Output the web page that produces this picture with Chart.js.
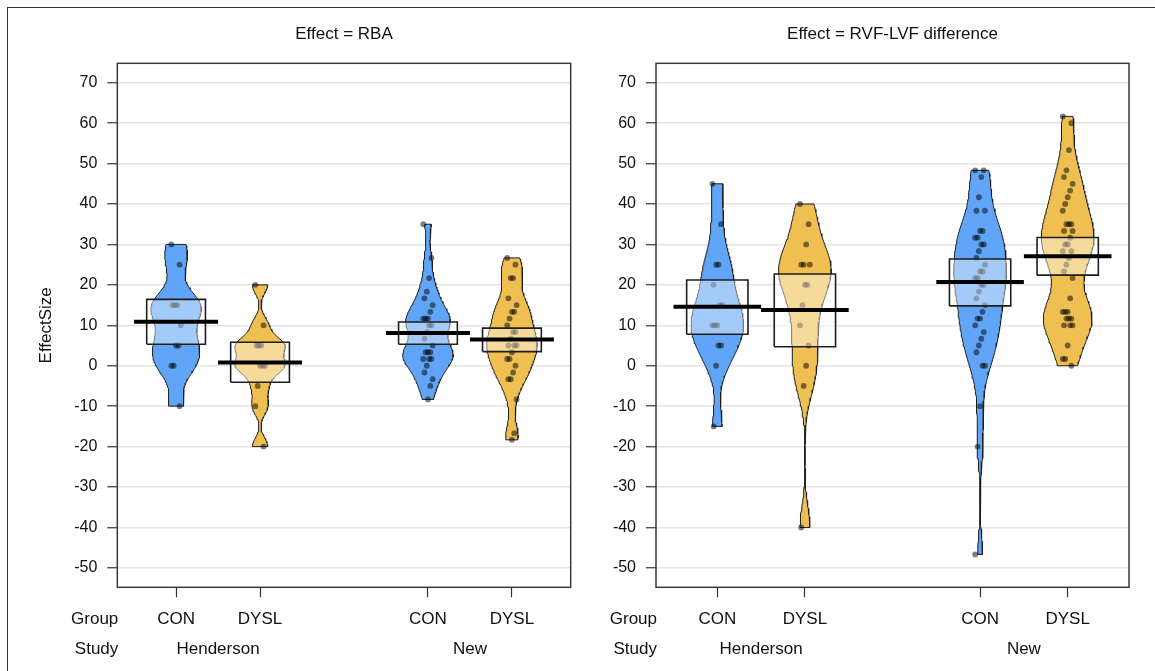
<!DOCTYPE html>
<html>
<head>
<meta charset="utf-8">
<script src="https://cdn.jsdelivr.net/npm/chart.js@4"></script>
<style>
  body { margin: 0; background: #fff; width: 1155px; height: 671px; overflow: hidden; position: relative; }
  #frame { position: absolute; left: 7px; top: 7px; width: 1300px; height: 800px; border: 1.5px solid #333; }
  canvas { position: absolute; top: 0; }
  #left { left: 0; }
  #right { left: 590px; }
</style>
</head>
<body>
<div id="frame"></div>
<canvas id="left" width="600" height="671"></canvas>
<canvas id="right" width="565" height="671"></canvas>
<script>
const effects = ['RBA', 'RVF-LVF difference'];
const groups = ['CON', 'DYSL', 'CON', 'DYSL'];
const studies = ['Henderson', 'New'];
const positions = [1, 2, 4, 5];
const rowNames = ['Group', 'Study'];
const yTicks = [-50, -40, -30, -20, -10, 0, 10, 20, 30, 40, 50, 60, 70];

// Effect = RBA, raw effect sizes per group
const rbaHendersonCon = [30, 25, 15, 15, 15, 10, 5, 5, 0, 0, -10];
const rbaHendersonDysl = [20, 10, 5, 5, 5, 0, 0, 0, -5, -10, -20];
const rbaNewCon = [35, 26.67, 21.67, 18.33, 16.67, 15, 13.33, 11.67, 11.67, 11.67, 10, 10, 8.33, 6.67, 5,
  3.33, 3.33, 3.33, 1.67, 1.67, 1.67, 0, -1.67, -3.33, -5, -8.33];
const rbaNewDysl = [26.67, 25, 21.67, 21.67, 16.67, 15, 13.33, 13.33, 11.67, 10, 8.33, 8.33, 6.67, 5, 5, 5,
  3.33, 1.67, 1.67, 0, -1.67, -3.33, -3.33, -8.33, -16.67, -18.33];
const rbaMeans = [10.9, 0.8, 8.1, 6.5];
const rbaLower = [5.3, -4.1, 5.3, 3.5];
const rbaUpper = [16.4, 5.8, 10.8, 9.3];

// Effect = RVF-LVF difference
const diffHendersonCon = [45, 35, 25, 25, 20, 15, 15, 10, 10, 10, 5, 5, 0, -15];
const diffHendersonDysl = [40, 35, 30, 25, 25, 25, 20, 20, 15, 10, 5, 0, -5, -40];
const diffNewCon = [48.33, 48.33, 46.67, 41.67, 38.33, 38.33, 33.33, 33.33, 31.67, 31.67, 30, 30, 28.33, 26.67,
  25, 23.33, 23.33, 21.67, 21.67, 20, 20, 18.33, 16.67, 15, 13.33, 11.67, 11.67, 10, 8.33, 6.67, 5, 3.33, 0, 0,
  -10, -20, -46.67];
const diffNewDysl = [61.67, 60, 53.33, 48.33, 46.67, 45, 43.33, 41.67, 40, 38.33, 35, 35, 35, 33.33, 33.33, 31.67,
  30, 30, 28.33, 28.33, 26.67, 25, 23.33, 21.67, 16.67, 13.33, 13.33, 13.33, 11.67, 11.67, 11.67, 10, 10, 10,
  5, 1.67, 1.67, 0];
const diffMeans = [14.6, 13.8, 20.7, 27.1];
const diffLower = [7.8, 4.7, 14.8, 22.4];
const diffUpper = [21.2, 22.7, 26.4, 31.7];

const FONT = "'Liberation Sans', Arial, Helvetica, sans-serif";
const beanColors = ['#60a5f7', '#efbf52'];
const BW_ADJUST = 0.7;

Chart.defaults.font.family = FONT;
Chart.defaults.font.size = 16;
Chart.defaults.color = '#111';

// gaussian density, trimmed to data range (like the bean in a pirate plot)
function density(vals, steps) {
  const s = vals.slice().sort((a, b) => a - b);
  const n = s.length;
  const mean = s.reduce((a, b) => a + b, 0) / n;
  const sd = Math.sqrt(s.reduce((a, v) => a + (v - mean) ** 2, 0) / (n - 1));
  const q = p => {
    const h = (n - 1) * p, lo = Math.floor(h);
    const hi = Math.min(lo + 1, n - 1);
    return s[lo] + (h - lo) * (s[hi] - s[lo]);
  };
  let spread = Math.min(sd, (q(0.75) - q(0.25)) / 1.34);
  if (!(spread > 0)) spread = sd || 1;
  const bw = BW_ADJUST * 0.9 * spread * Math.pow(n, -0.2);
  const out = [];
  for (let i = 0; i <= steps; i++) {
    const y = s[0] + (s[n - 1] - s[0]) * i / steps;
    let d = 0;
    for (const v of s) d += Math.exp(-0.5 * ((y - v) / bw) ** 2);
    out.push({ y, d });
  }
  const max = Math.max(...out.map(o => o.d));
  return out.map(o => ({ y: o.y, w: o.d / max * 0.3 }));
}

function jitter(i) {
  return (((i * 7) % 9) - 4) * 0.014;
}

function buildDatasets(samples, means, lower, upper) {
  const ds = [];
  samples.forEach((vals, g) => {
    const p = positions[g];
    const dens = density(vals, 120);
    const left = dens.map(d => ({ x: p - d.w, y: d.y }));
    const right = dens.slice().reverse().map(d => ({ x: p + d.w, y: d.y }));
    ds.push({
      data: left.concat(right, [left[0]]), showLine: true, fill: 'shape',
      backgroundColor: beanColors[g % 2], borderColor: '#1e1e1e', borderWidth: 1,
      pointRadius: 0, order: 4
    });
    ds.push({
      data: vals.map((v, i) => ({ x: p + jitter(i), y: v })),
      backgroundColor: 'rgba(0,0,0,0.5)', borderWidth: 0, pointRadius: 2.9, order: 3
    });
    ds.push({
      data: [
        { x: p - 0.35, y: lower[g] }, { x: p + 0.35, y: lower[g] },
        { x: p + 0.35, y: upper[g] }, { x: p - 0.35, y: upper[g] },
        { x: p - 0.35, y: lower[g] }
      ],
      showLine: true, fill: 'shape', backgroundColor: 'rgba(255,255,255,0.42)',
      borderColor: '#1e1e1e', borderWidth: 1.6, pointRadius: 0, order: 2
    });
    ds.push({
      data: [{ x: p - 0.5, y: means[g] }, { x: p + 0.5, y: means[g] }],
      showLine: true, borderColor: '#000', borderWidth: 4, borderCapStyle: 'butt',
      pointRadius: 0, order: 1
    });
  });
  return ds;
}

const panelFrame = {
  id: 'panelFrame',
  afterDraw(chart) {
    const { ctx, chartArea: a, scales } = chart;
    ctx.save();
    ctx.strokeStyle = '#3a3a3a';
    ctx.lineWidth = 1.5;
    ctx.strokeRect(a.left, a.top, a.right - a.left, a.bottom - a.top);
    ctx.font = '17px ' + FONT;
    ctx.fillStyle = '#111';
    ctx.textAlign = 'right';
    ctx.textBaseline = 'middle';
    ctx.fillText(rowNames[0], a.left + 1, scales.x.top + 10 + 11.5 + 10.2);
    ctx.fillText(rowNames[1], a.left + 1, scales.x2.top + 11.5 + 10.2);
    ctx.restore();
  }
};

function makePanel(id, title, samples, means, lower, upper, axisWidth, rightPad, yTitle) {
  return new Chart(document.getElementById(id), {
    type: 'scatter',
    data: { datasets: buildDatasets(samples, means, lower, upper) },
    options: {
      responsive: false,
      animation: false,
      devicePixelRatio: 1,
      events: [],
      layout: { padding: { left: 0, right: rightPad, top: 0, bottom: 3.7 } },
      plugins: {
        legend: { display: false },
        tooltip: { enabled: false },
        title: {
          display: true, text: title, fullSize: false,
          padding: { top: 24.4, bottom: 18.5 },
          font: { size: 17, weight: 'normal' }, color: '#111'
        }
      },
      scales: {
        x: {
          type: 'linear', position: 'bottom', weight: 0, min: 0.3, max: 5.7,
          afterBuildTicks: s => { s.ticks = positions.map(v => ({ value: v })); },
          afterFit: s => { s.height = 40; },
          ticks: { callback: (v, i) => groups[i], padding: 11.5, autoSkip: false, maxRotation: 0, font: { size: 17 } },
          grid: { drawOnChartArea: false, tickLength: 10, tickColor: '#333', tickWidth: 1.2 },
          border: { display: false }
        },
        x2: {
          type: 'linear', axis: 'x', position: 'bottom', weight: 1, min: 0.3, max: 5.7,
          afterBuildTicks: s => {
            s.ticks = [(positions[0] + positions[1]) / 2, (positions[2] + positions[3]) / 2].map(v => ({ value: v }));
          },
          afterFit: s => { s.height = 40; },
          ticks: { callback: (v, i) => studies[i], padding: 11.5, autoSkip: false, maxRotation: 0, font: { size: 17 } },
          grid: { display: false, drawTicks: false },
          border: { display: false }
        },
        y: {
          type: 'linear', bounds: 'data', min: -54.8, max: 74.8,
          afterBuildTicks: s => { s.ticks = yTicks.map(v => ({ value: v })); },
          afterFit: s => { s.width = axisWidth; },
          ticks: { padding: 10 },
          grid: { color: '#e4e4e4', lineWidth: 1.5, tickLength: 10, tickColor: '#333', tickWidth: 1.2 },
          border: { display: false },
          title: { display: !!yTitle, text: yTitle || '', padding: { top: 35.8 }, font: { size: 17 } }
        }
      }
    },
    plugins: [panelFrame]
  });
}

makePanel('left', 'Effect = ' + effects[0],
  [rbaHendersonCon, rbaHendersonDysl, rbaNewCon, rbaNewDysl],
  rbaMeans, rbaLower, rbaUpper, 117.3, 29.3, 'EffectSize');
makePanel('right', 'Effect = ' + effects[1],
  [diffHendersonCon, diffHendersonDysl, diffNewCon, diffNewDysl],
  diffMeans, diffLower, diffUpper, 66, 26, null);
</script>
</body>
</html>
